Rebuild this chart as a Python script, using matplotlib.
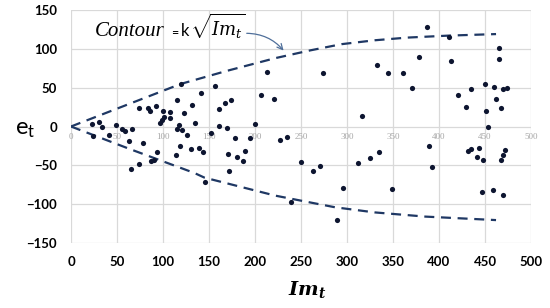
import numpy as np
import matplotlib
matplotlib.use("Agg")
import matplotlib.pyplot as plt

# ---------------- data ----------------
im_t = [22.5, 30.8, 33.3, 23.6, 41, 49.3, 55, 59, 66.7, 63, 78.6, 65.2, 73.9, 86.6, 90.2, 93,
        73.9, 83.7, 85.9, 92, 100, 108, 101, 98.6, 96.7, 107.6, 115, 123, 117, 115.6, 120.6,
        126.5, 119, 114.5, 213, 156, 141, 206, 221, 132, 167.7, 174, 161, 134.8, 161, 170,
        199.6, 152, 178.6, 195, 227, 234.4, 130.8, 139.5, 143, 171, 180.8, 189.5, 187.3,
        249.6, 172, 145.3, 238.8, 386.6, 274, 333, 345, 361, 378, 371, 316.7, 410.9, 465.6,
        465, 412.7, 449.7, 459.8, 474, 470, 435, 420.7, 462.3, 429.7, 467.7, 451, 453,
        262.7, 271, 312, 325, 334.8, 295.3, 349, 289.5, 388.8, 392, 432, 435, 443, 441, 448,
        471.4, 470, 467, 447, 458.7, 470, 119.5]
e_t = [3.5, 5.5, -0.8, -12.8, -11.5, 1.3, -3, -6.4, -3.8, -18.8, -21, -54.7, -48.3, -44, -43.6, -33,
       24, 24, 19.7, 26, 20.5, 18.4, 12, 8.5, 4.7, 11.2, 34, 17.5, 2, -3.4, -5,
       -11.5, -25, -36.3, 70.5, 51.7, 43, 40, 35, 27.8, 30.8, 33.8, 22.2, 4.3, 0.4, -2,
       3.4, -8.1, -15, -15, -17, -14, -29.5, -27.4, -33.3, -35, -38.8, -31.2, -44.9,
       -46, -56.8, -71.8, -97.8, 127.8, 69, 79, 69, 68.8, 90, 50, 14, 115.4, 101.7,
       86.3, 83.7, 54.7, 50.9, 50, 47.9, 47.9, 40.6, 35.5, 25.2, 24.4, 20, 0,
       -57.7, -51.3, -46.6, -40.6, -32.9, -78.6, -80.3, -120.5, -24.8, -51.7, -31.6, -29.5, -27.4, -39.7, -43.2,
       -29.9, -36.3, -42.7, -84, -81.2, -88, 54.7]

# contour envelope
upper_x = [0, 119, 169, 222, 260, 294, 330, 366, 410, 462]
upper_y = [0, 54.7, 71.5, 88, 98, 106, 111, 114.5, 117, 119]
lower_x = [0, 65, 134, 145, 222, 260, 287, 330, 385, 462]
lower_y = [0, -29.5, -59.8, -65.8, -89, -97.8, -104, -110.6, -116, -120.5]

x_ticks = [0, 50, 100, 150, 200, 250, 300, 350, 400, 450, 500]
y_ticks = [-150, -100, -50, 0, 50, 100, 150]

# ---------------- style ----------------
plt.rcParams['mathtext.fontset'] = 'custom'
plt.rcParams['mathtext.rm'] = 'Lato'
plt.rcParams['mathtext.it'] = 'DejaVu Serif:italic'
plt.rcParams['mathtext.bf'] = 'DejaVu Serif:bold:italic'

fig = plt.figure(figsize=(5.5, 3.08), dpi=100)
ax = fig.add_axes([71/550, 1-243/308, 460/550, 233/308])

ax.set_xlim(0, 500)
ax.set_ylim(-150, 150)
ax.set_xticks(x_ticks)
ax.set_yticks(y_ticks)
ax.grid(True, color='#d9d9d9', lw=0.9)
ax.set_axisbelow(True)
for s in ax.spines.values():
    s.set_visible(False)
ax.tick_params(length=0)
ax.tick_params(axis='x', pad=9)
ax.tick_params(axis='y', pad=10)
for lab in ax.get_xticklabels() + ax.get_yticklabels():
    lab.set_fontfamily('Lato')
    lab.set_fontweight('bold')
    lab.set_fontsize(9.5)

# grey secondary labels along the zero line
for xv in x_ticks:
    ax.text(xv, -14, str(xv), color='#a6a6a6', fontsize=6.5, family='Liberation Serif',
            ha='center', va='center')

# contour
ax.plot(upper_x, upper_y, color='#1f3864', lw=1.6, ls=(0, (4.5, 3)))
ax.plot(lower_x, lower_y, color='#1f3864', lw=1.6, ls=(0, (4.5, 3)))

# points
ax.scatter(im_t, e_t, s=14, color='#0d1530', zorder=3, linewidths=0)

# annotation
ax.text(26, 117, 'Contour', fontsize=15, family='Liberation Serif', style='italic',
        ha='left', va='baseline')
ax.text(109, 115, '=', fontsize=9, family='Lato', ha='left', va='baseline')
ax.text(119, 117, 'k', fontsize=12, family='Lato', ha='left', va='baseline')
ax.text(129, 117, r'$\sqrt{Im_t}$', fontsize=13, ha='left', va='baseline')
ax.annotate('', xy=(233, 95), xytext=(188, 120),
            arrowprops=dict(arrowstyle='->', color='#4f6f9a', lw=0.9,
                            connectionstyle='arc3,rad=-0.25'))

# axis labels
fig.text(25/550, 1-128/308, r'$\mathrm{e}_\mathrm{t}$', fontsize=17, ha='center', va='center')
fig.text(307/550, 1-290/308, r'$\mathbf{Im_t}$', fontsize=14, ha='center', va='center')

fig.savefig('out.png', dpi=100)
